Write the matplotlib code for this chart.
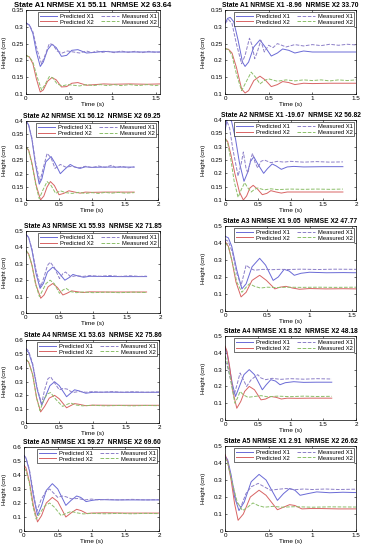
import matplotlib
matplotlib.use('Agg')
import matplotlib.pyplot as plt
from matplotlib.ticker import FormatStrFormatter

plt.rcParams['font.family'] = ['Liberation Sans', 'DejaVu Sans']

# (time, height) points
a1l_pred_x1 = [(0,.312),(.04,.305),(.08,.28),(.12,.225),(.165,.182),(.2,.195),(.25,.232),(.3,.248),(.35,.238),(.41,.212),(.47,.215),(.53,.23),(.6,.232),(.7,.222),(.8,.224),(.9,.227),(1.0,.225),(1.2,.225),(1.4,.225),(1.55,.225)]
a1l_meas_x1 = [(0,.31),(.04,.305),(.08,.285),(.13,.23),(.18,.19),(.22,.215),(.27,.25),(.31,.247),(.36,.228),(.42,.222),(.48,.228),(.55,.225),(.62,.222),(.7,.228),(.76,.223),(.82,.228),(.88,.224),(.95,.227),(1.02,.223),(1.1,.228),(1.18,.224),(1.26,.227),(1.34,.223),(1.42,.227),(1.5,.224),(1.55,.225)]
a1l_pred_x2 = [(0,.215),(.04,.21),(.08,.19),(.12,.145),(.165,.106),(.2,.112),(.25,.138),(.3,.149),(.35,.142),(.41,.121),(.47,.122),(.53,.132),(.6,.134),(.7,.126),(.8,.128),(.9,.13),(1.0,.129),(1.2,.13),(1.4,.129),(1.55,.13)]
a1l_meas_x2 = [(0,.215),(.04,.21),(.08,.195),(.13,.15),(.18,.112),(.22,.128),(.27,.152),(.31,.148),(.36,.13),(.42,.124),(.48,.128),(.55,.126),(.62,.124),(.7,.128),(.78,.125),(.86,.128),(.94,.125),(1.02,.128),(1.1,.125),(1.2,.128),(1.3,.125),(1.4,.128),(1.5,.125),(1.55,.127)]

a1r_pred_x1 = [(0,.31),(.03,.325),(.06,.328),(.1,.315),(.15,.26),(.2,.195),(.23,.182),(.27,.195),(.33,.24),(.4,.261),(.46,.24),(.53,.213),(.6,.222),(.66,.234),(.73,.23),(.8,.222),(.9,.228),(1.0,.225),(1.2,.225),(1.5,.225)]
a1r_meas_x1 = [(0,.31),(.04,.322),(.08,.31),(.13,.25),(.19,.19),(.23,.215),(.28,.266),(.31,.245),(.34,.205),(.37,.225),(.41,.26),(.45,.225),(.5,.245),(.55,.238),(.6,.25),(.7,.24),(.8,.247),(.9,.243),(1.0,.247),(1.1,.244),(1.2,.248),(1.3,.245),(1.4,.248),(1.5,.246)]
a1r_pred_x2 = [(0,.235),(.04,.233),(.08,.222),(.13,.18),(.19,.115),(.23,.103),(.27,.11),(.33,.14),(.4,.153),(.46,.142),(.53,.122),(.6,.128),(.66,.137),(.73,.134),(.8,.128),(.9,.132),(1.0,.131),(1.2,.132),(1.5,.132)]
a1r_meas_x2 = [(0,.235),(.04,.232),(.08,.215),(.13,.16),(.19,.11),(.24,.135),(.3,.165),(.35,.15),(.4,.13),(.45,.14),(.5,.145),(.6,.138),(.7,.142),(.8,.139),(.9,.142),(1.0,.14),(1.1,.142),(1.2,.139),(1.3,.142),(1.4,.14),(1.5,.142)]

a2l_pred_x1 = [(0,.4),(.04,.385),(.09,.33),(.14,.24),(.2,.16),(.24,.18),(.3,.245),(.38,.265),(.44,.24),(.52,.2),(.58,.215),(.67,.235),(.74,.225),(.82,.22),(.9,.226),(1.0,.224),(1.2,.225),(1.4,.225),(1.64,.225)]
a2l_meas_x1 = [(0,.4),(.04,.385),(.09,.335),(.14,.25),(.21,.17),(.26,.22),(.32,.277),(.38,.26),(.44,.22),(.52,.235),(.6,.225),(.7,.228),(.8,.222),(.9,.228),(1.0,.223),(1.1,.229),(1.2,.224),(1.3,.232),(1.36,.223),(1.45,.228),(1.55,.222),(1.64,.226)]
a2l_pred_x2 = [(0,.3),(.04,.29),(.09,.24),(.15,.16),(.22,.1),(.27,.115),(.32,.15),(.37,.17),(.43,.155),(.5,.12),(.57,.125),(.65,.135),(.74,.13),(.82,.126),(.9,.13),(1.0,.129),(1.2,.13),(1.4,.13),(1.64,.13)]
a2l_meas_x2 = [(0,.3),(.04,.288),(.09,.235),(.15,.155),(.2,.105),(.26,.14),(.32,.17),(.38,.155),(.45,.125),(.52,.135),(.6,.128),(.7,.125),(.8,.129),(.9,.125),(1.0,.128),(1.1,.125),(1.2,.129),(1.3,.126),(1.4,.129),(1.5,.126),(1.64,.128)]

a2r_pred_x1 = [(0,.36),(.03,.4),(.06,.41),(.1,.395),(.16,.33),(.22,.24),(.29,.17),(.34,.2),(.39,.245),(.44,.262),(.5,.235),(.59,.2),(.65,.218),(.72,.235),(.78,.228),(.86,.215),(.95,.224),(1.05,.226),(1.2,.224),(1.5,.225),(1.8,.225)]
a2r_meas_x1 = [(0,.38),(.03,.395),(.07,.37),(.12,.29),(.2,.19),(.25,.24),(.28,.28),(.32,.22),(.35,.2),(.39,.25),(.42,.275),(.46,.24),(.5,.22),(.55,.245),(.6,.25),(.7,.24),(.8,.245),(.9,.242),(1.0,.245),(1.2,.242),(1.4,.244),(1.6,.242),(1.8,.243)]
a2r_pred_x2 = [(0,.33),(.04,.32),(.09,.27),(.15,.2),(.22,.13),(.28,.1),(.33,.115),(.38,.145),(.43,.155),(.5,.14),(.57,.12),(.64,.125),(.7,.135),(.78,.13),(.86,.126),(.95,.13),(1.1,.13),(1.4,.13),(1.8,.13)]
a2r_meas_x2 = [(0,.33),(.04,.315),(.09,.25),(.14,.17),(.2,.11),(.25,.14),(.3,.165),(.35,.145),(.4,.13),(.45,.14),(.5,.145),(.6,.138),(.7,.142),(.8,.139),(1.0,.141),(1.2,.14),(1.4,.141),(1.6,.14),(1.8,.141)]

a3l_pred_x1 = [(0,.48),(.04,.46),(.09,.38),(.15,.24),(.21,.15),(.26,.18),(.32,.25),(.4,.28),(.48,.25),(.58,.2),(.64,.215),(.7,.235),(.78,.225),(.86,.218),(.95,.224),(1.1,.223),(1.4,.222),(1.8,.222)]
a3l_meas_x1 = [(0,.48),(.04,.46),(.09,.39),(.15,.26),(.22,.16),(.27,.22),(.32,.29),(.36,.31),(.42,.28),(.5,.21),(.55,.24),(.59,.25),(.67,.22),(.75,.228),(.85,.223),(.95,.228),(1.1,.224),(1.25,.228),(1.4,.223),(1.55,.227),(1.7,.223),(1.8,.225)]
a3l_pred_x2 = [(0,.38),(.04,.36),(.09,.29),(.15,.17),(.22,.09),(.27,.11),(.33,.16),(.4,.18),(.47,.155),(.55,.11),(.61,.12),(.68,.135),(.76,.13),(.85,.125),(.95,.129),(1.2,.128),(1.5,.128),(1.8,.128)]
a3l_meas_x2 = [(0,.38),(.04,.36),(.09,.29),(.14,.18),(.2,.1),(.25,.14),(.3,.18),(.36,.2),(.42,.18),(.5,.12),(.55,.14),(.6,.15),(.67,.13),(.75,.124),(.85,.128),(1.0,.124),(1.2,.127),(1.4,.124),(1.6,.127),(1.8,.125)]

a3r_pred_x1 = [(0,.44),(.04,.43),(.08,.38),(.14,.24),(.2,.13),(.25,.16),(.32,.26),(.41,.31),(.48,.27),(.57,.18),(.63,.2),(.7,.245),(.76,.235),(.82,.21),(.9,.222),(1.0,.228),(1.2,.225),(1.4,.226),(1.55,.225)]
a3r_meas_x1 = [(0,.42),(.04,.41),(.09,.34),(.14,.22),(.19,.15),(.25,.27),(.3,.25),(.35,.24),(.45,.245),(.55,.243),(.65,.245),(.75,.244),(.9,.246),(1.1,.244),(1.3,.246),(1.55,.245)]
a3r_pred_x2 = [(0,.41),(.04,.38),(.08,.3),(.13,.17),(.19,.083),(.25,.11),(.32,.18),(.41,.21),(.49,.18),(.59,.13),(.65,.14),(.72,.145),(.8,.135),(.88,.128),(1.0,.132),(1.2,.13),(1.4,.131),(1.55,.13)]
a3r_meas_x2 = [(0,.4),(.04,.38),(.09,.28),(.14,.17),(.2,.11),(.25,.14),(.29,.16),(.35,.145),(.42,.135),(.5,.14),(.6,.138),(.75,.14),(.9,.139),(1.1,.14),(1.3,.139),(1.55,.14)]

a4l_pred_x1 = [(0,.53),(.04,.51),(.1,.42),(.17,.24),(.235,.128),(.3,.2),(.36,.27),(.43,.298),(.5,.27),(.61,.19),(.67,.215),(.73,.24),(.8,.232),(.9,.215),(1.0,.222),(1.2,.223),(1.5,.222),(2.0,.222)]
a4l_meas_x1 = [(0,.54),(.04,.52),(.1,.43),(.17,.25),(.235,.14),(.28,.24),(.33,.32),(.37,.334),(.43,.29),(.5,.24),(.56,.25),(.62,.245),(.7,.22),(.8,.228),(.9,.222),(1.0,.227),(1.15,.222),(1.3,.227),(1.45,.222),(1.6,.226),(1.8,.222),(2.0,.225)]
a4l_pred_x2 = [(0,.46),(.04,.44),(.1,.35),(.16,.18),(.22,.08),(.28,.12),(.35,.18),(.43,.2),(.5,.175),(.61,.11),(.67,.125),(.73,.14),(.8,.135),(.9,.125),(1.0,.129),(1.3,.128),(1.6,.128),(2.0,.128)]
a4l_meas_x2 = [(0,.46),(.04,.44),(.1,.35),(.16,.18),(.21,.09),(.27,.17),(.32,.21),(.37,.22),(.45,.17),(.55,.12),(.62,.135),(.67,.145),(.75,.13),(.85,.124),(1.0,.128),(1.2,.124),(1.4,.127),(1.6,.124),(1.8,.127),(2.0,.125)]

a4r_pred_x1 = [(0,.43),(.03,.4),(.07,.31),(.11,.22),(.16,.14),(.22,.2),(.29,.27),(.37,.3),(.45,.27),(.57,.18),(.63,.21),(.7,.24),(.77,.232),(.84,.21),(.92,.222),(1.05,.228),(1.2,.224),(1.4,.225),(1.63,.225)]
a4r_meas_x1 = [(0,.35),(.03,.33),(.08,.25),(.14,.15),(.19,.22),(.23,.28),(.28,.24),(.33,.2),(.4,.24),(.5,.27),(.55,.25),(.62,.24),(.72,.248),(.85,.242),(1.0,.246),(1.2,.243),(1.4,.246),(1.63,.244)]
a4r_pred_x2 = [(0,.44),(.03,.41),(.07,.32),(.12,.17),(.18,.07),(.24,.11),(.3,.17),(.37,.2),(.45,.18),(.55,.12),(.62,.125),(.7,.14),(.78,.135),(.86,.125),(.95,.13),(1.1,.129),(1.3,.13),(1.63,.13)]
a4r_meas_x2 = [(0,.38),(.03,.35),(.08,.25),(.15,.1),(.19,.13),(.23,.17),(.28,.15),(.35,.135),(.45,.14),(.55,.145),(.65,.138),(.8,.142),(1.0,.139),(1.2,.142),(1.4,.14),(1.63,.141)]

a5l_pred_x1 = [(0,.54),(.03,.52),(.08,.43),(.14,.25),(.2,.112),(.26,.18),(.33,.29),(.42,.338),(.5,.3),(.62,.183),(.7,.22),(.78,.25),(.84,.24),(.92,.21),(1.0,.218),(1.1,.225),(1.3,.222),(1.6,.222),(2.0,.222)]
a5l_meas_x1 = [(0,.54),(.03,.52),(.08,.44),(.14,.27),(.19,.14),(.25,.22),(.32,.28),(.38,.3),(.44,.27),(.5,.24),(.56,.25),(.62,.245),(.7,.23),(.8,.232),(.9,.222),(1.0,.228),(1.1,.222),(1.25,.226),(1.4,.222),(1.6,.226),(1.8,.222),(2.0,.224)]
a5l_pred_x2 = [(0,.47),(.03,.45),(.08,.35),(.14,.18),(.2,.065),(.26,.11),(.33,.2),(.42,.24),(.5,.21),(.62,.1),(.7,.13),(.78,.155),(.85,.145),(.93,.125),(1.0,.128),(1.2,.13),(1.5,.128),(2.0,.128)]
a5l_meas_x2 = [(0,.45),(.03,.43),(.08,.34),(.13,.18),(.18,.085),(.24,.13),(.31,.18),(.38,.2),(.45,.17),(.55,.11),(.62,.125),(.7,.14),(.78,.13),(.88,.122),(1.0,.126),(1.2,.123),(1.4,.126),(1.6,.123),(1.8,.126),(2.0,.124)]

a5r_pred_x1 = [(0,.44),(.03,.42),(.07,.33),(.11,.2),(.16,.12),(.22,.17),(.3,.29),(.39,.333),(.47,.3),(.6,.18),(.67,.22),(.74,.25),(.8,.24),(.86,.21),(.95,.22),(1.05,.23),(1.2,.225),(1.35,.228),(1.5,.226)]
a5r_meas_x1 = [(0,.44),(.03,.41),(.08,.3),(.13,.17),(.18,.14),(.24,.22),(.3,.26),(.38,.28),(.45,.26),(.52,.24),(.6,.245),(.7,.25),(.8,.243),(.9,.247),(1.0,.244),(1.15,.247),(1.3,.244),(1.5,.246)]
a5r_pred_x2 = [(0,.45),(.03,.41),(.07,.3),(.11,.16),(.15,.063),(.21,.1),(.29,.2),(.39,.24),(.47,.21),(.6,.125),(.67,.14),(.74,.155),(.8,.15),(.88,.13),(.97,.132),(1.1,.132),(1.3,.13),(1.5,.13)]
a5r_meas_x2 = [(0,.43),(.03,.4),(.08,.29),(.14,.17),(.2,.12),(.26,.14),(.32,.165),(.38,.15),(.45,.14),(.55,.145),(.65,.14),(.8,.143),(1.0,.14),(1.2,.142),(1.5,.141)]

titles = ['State A1 NRMSE X1 55.11  NRMSE X2 63.64', 'State A1 NRMSE X1 -8.96  NRMSE X2 33.70',
          'State A2 NRMSE X1 56.12  NRMSE X2 69.25', 'State A2 NRMSE X1 -19.67  NRMSE X2 56.82',
          'State A3 NRMSE X1 55.93  NRMSE X2 71.85', 'State A3 NRMSE X1 9.05  NRMSE X2 47.77',
          'State A4 NRMSE X1 53.63  NRMSE X2 75.86', 'State A4 NRMSE X1 8.52  NRMSE X2 48.18',
          'State A5 NRMSE X1 59.27  NRMSE X2 69.60', 'State A5 NRMSE X1 2.91  NRMSE X2 26.62']
x_max = [1.55, 1.5, 2, 2, 2, 1.55, 2, 2, 2, 1.5]
y_lims = [(0.1, 0.35), (0.1, 0.35), (0.1, 0.4), (0.1, 0.4), (0, 0.5),
          (0, 0.5), (0, 0.6), (0, 0.5), (0, 0.6), (0, 0.5)]
y_steps = [0.05, 0.05, 0.05, 0.05, 0.1, 0.1, 0.1, 0.1, 0.1, 0.1]

curves = [
    (a1l_pred_x1, a1l_meas_x1, a1l_pred_x2, a1l_meas_x2),
    (a1r_pred_x1, a1r_meas_x1, a1r_pred_x2, a1r_meas_x2),
    (a2l_pred_x1, a2l_meas_x1, a2l_pred_x2, a2l_meas_x2),
    (a2r_pred_x1, a2r_meas_x1, a2r_pred_x2, a2r_meas_x2),
    (a3l_pred_x1, a3l_meas_x1, a3l_pred_x2, a3l_meas_x2),
    (a3r_pred_x1, a3r_meas_x1, a3r_pred_x2, a3r_meas_x2),
    (a4l_pred_x1, a4l_meas_x1, a4l_pred_x2, a4l_meas_x2),
    (a4r_pred_x1, a4r_meas_x1, a4r_pred_x2, a4r_meas_x2),
    (a5l_pred_x1, a5l_meas_x1, a5l_pred_x2, a5l_meas_x2),
    (a5r_pred_x1, a5r_meas_x1, a5r_pred_x2, a5r_meas_x2),
]

# axes boxes in pixels: left, right, top, bottom
W, H = 366, 550
boxes = [(26, 160, 10, 94), (225, 356, 10, 94),
         (26, 158, 121, 200), (225, 356, 120, 200),
         (26, 160, 231, 313), (225, 356, 226, 311),
         (26, 159, 340, 423), (225, 356, 336, 420),
         (24, 159, 447, 531), (225, 356, 446, 531)]
title_sizes = [5.5, 4.8, 4.8, 4.8, 4.8, 4.8, 4.8, 4.8, 4.8, 4.8]
ylabel_x = [7, 206, 7, 206, 7, 206, 7, 206, 7, 206]

c_blue = '#6a6ad6'
c_blue2 = '#8c7fc8'
c_red = '#d86464'
c_green = '#8cbf6a'

fig = plt.figure(figsize=(W / 100, H / 100), dpi=100)
for i in range(10):
    l, r, t, b = boxes[i]
    w = r - l
    ax = fig.add_axes([l / W, 1 - b / H, w / W, (b - t) / H])
    px1, mx1, px2, mx2 = curves[i]
    h1, = ax.plot(*zip(*px1), '-', color=c_blue, lw=0.7, label='Predicted X1')
    h2, = ax.plot(*zip(*px2), '-', color=c_red, lw=0.7, label='Predicted X2')
    h3, = ax.plot(*zip(*mx1), '--', color=c_blue2, lw=0.7, label='Measured X1')
    h4, = ax.plot(*zip(*mx2), '--', color=c_green, lw=0.7, label='Measured X2')
    ax.set_xlim(0, x_max[i])
    lo, hi = y_lims[i]
    ax.set_ylim(lo, hi)
    n = int(round((hi - lo) / y_steps[i]))
    ax.set_yticks([round(lo + k * y_steps[i], 2) for k in range(n + 1)])
    ax.set_xticks([v for v in [0, 0.5, 1, 1.5, 2] if v <= x_max[i] + 1e-9])
    ax.xaxis.set_major_formatter(FormatStrFormatter('%g'))
    ax.yaxis.set_major_formatter(FormatStrFormatter('%g'))
    ax.tick_params(labelsize=4.5, length=1.5, width=0.4, pad=1.5, direction='in',
                   top=True, right=True)
    for s in ax.spines.values():
        s.set_linewidth(0.5)
    ax.set_title(titles[i], fontsize=title_sizes[i], fontweight='bold', pad=2)
    ax.set_xlabel('Time (s)', fontsize=4.6, labelpad=1)
    ax.set_ylabel('Height (cm)', fontsize=4.3)
    ax.yaxis.set_label_coords(-(l - ylabel_x[i]) / w, 0.5)
    leg = ax.legend(handles=[h1, h2, h3, h4], ncol=2, loc='upper right', fontsize=4.2,
                    frameon=True, fancybox=False, edgecolor='black', framealpha=1,
                    handlelength=3, columnspacing=1.2, borderpad=0.3, labelspacing=0.15,
                    handletextpad=0.5, borderaxespad=0.3)
    leg.get_frame().set_linewidth(0.4)

fig.savefig('out.png', dpi=100)
